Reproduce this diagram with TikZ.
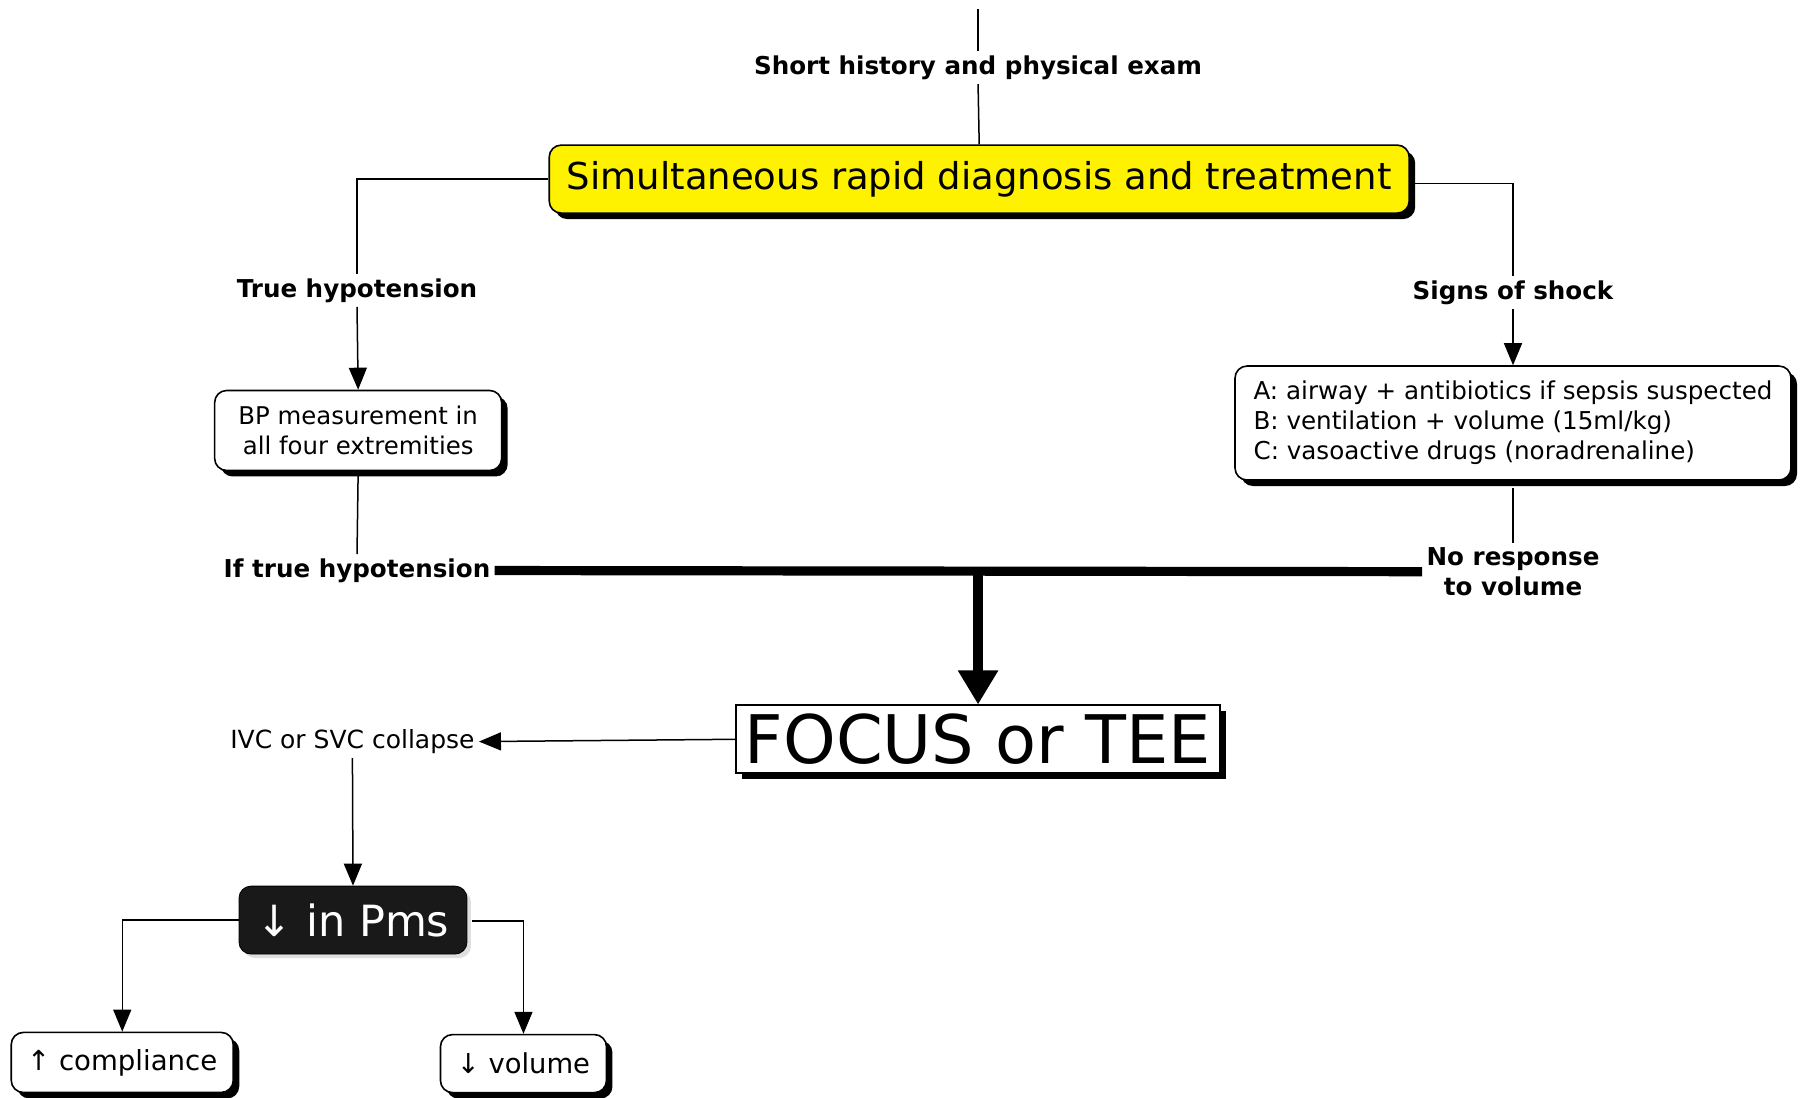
\documentclass[tikz,border=0pt]{standalone}
\usepackage{fontspec}
\setmainfont{DejaVu Sans}
\usetikzlibrary{arrows.meta,shadows,calc}
\begin{document}
\begin{tikzpicture}[x=0.574pt,y=-0.574pt,
  lbl/.style={font=\bfseries\fontsize{12.3}{14}\selectfont, fill=white, inner sep=2pt},
  hardshadow/.style={drop shadow={shadow xshift=3pt,shadow yshift=-3pt,fill=black,opacity=1}},
  box/.style={draw, line width=0.8pt, rounded corners=6pt, fill=white, hardshadow, inner sep=0pt, align=center},
  conn/.style={line width=0.75pt},
  arr/.style={conn, -{Triangle[length=11pt,width=9pt]}},
  thick conn/.style={line width=4.6pt},
]
\useasboundingbox (0,0) rectangle (1568,956);

% nodes
\coordinate (top) at (852,8);
\node[lbl] (hist) at (852,59) {Short history and physical exam};
\node[box, fill=yellow, minimum width=430pt, minimum height=34pt,
      font=\fontsize{18.5}{21}\selectfont] (diag) at (853,156) {Simultaneous rapid diagnosis and treatment};

\node[lbl] (trueh) at (311,253) {True hypotension};
\node[box, minimum width=143.5pt, minimum height=40pt,
      font=\fontsize{12.2}{15}\selectfont] (bp) at (312,375) {BP measurement in\\all four extremities};
\node[lbl] (iftrue) at (311,497) {If true hypotension};

\node[lbl] (signs) at (1318,255) {Signs of shock};
\node[box, minimum width=278pt, minimum height=57pt, align=left,
      font=\fontsize{12.3}{15}\selectfont] (abc) at (1318,368.5)
      {A: airway + antibiotics if sepsis suspected\\B: ventilation + volume (15ml/kg)\\C: vasoactive drugs (noradrenaline)};
\node[lbl, align=center, font=\bfseries\fontsize{12.3}{15}\selectfont] (noresp) at (1318,498) {No response\\to volume};

\node[draw, line width=0.8pt, fill=white, hardshadow, inner sep=0pt,
      minimum width=242pt, minimum height=34pt,
      font=\fontsize{33.5}{35}\selectfont] (focus) at (852,644) {FOCUS or TEE};

\node[font=\fontsize{12.5}{14}\selectfont, inner sep=2pt] (ivc) at (307,646) {IVC or SVC collapse};

\node[draw, fill=black!90, text=white, rounded corners=6pt, inner sep=0pt,
      minimum width=114pt, minimum height=34pt,
      drop shadow={shadow xshift=2pt,shadow yshift=-2pt,opacity=0.25},
      font=\fontsize{21.5}{23}\selectfont] (pms) at (307.5,801.5) {↓ in Pms};

\node[box, minimum width=111pt, minimum height=30pt,
      font=\fontsize{13.8}{15}\selectfont] (comp) at (106.5,925.5) {↑ compliance};
\node[box, minimum width=83pt, minimum height=29pt,
      font=\fontsize{13.7}{15}\selectfont] (vol) at (456,926.5) {↓ volume};

% connectors
\draw[conn] (top) -- (hist.north);
\draw[conn] (hist.south) -- (diag.north);
\draw[conn] (diag.west) -| (trueh.north);
\draw[arr] (trueh.south) -- (bp.north);
\draw[conn] (bp.south) -- (iftrue.north);
\draw[conn] ($(diag.east)+(0,4)$) -| (signs.north);
\draw[arr] (signs.south) -- (abc.north);
\draw[conn] ($(abc.south)+(0,6)$) -- (noresp.north);
\draw[thick conn] (iftrue.east) -- (noresp.west);
\coordinate (mid) at (852,498);
\draw[thick conn, -{Triangle[length=17pt,width=19pt]}] (mid) -- (focus.north);
\draw[arr] (focus.west) -- (ivc.east);
\draw[arr] (ivc.south) -- (pms.north);
\draw[arr] (pms.west) -| (comp.north);
\draw[arr] ($(pms.east)+(4,1)$) -| (vol.north);
\end{tikzpicture}
\end{document}
